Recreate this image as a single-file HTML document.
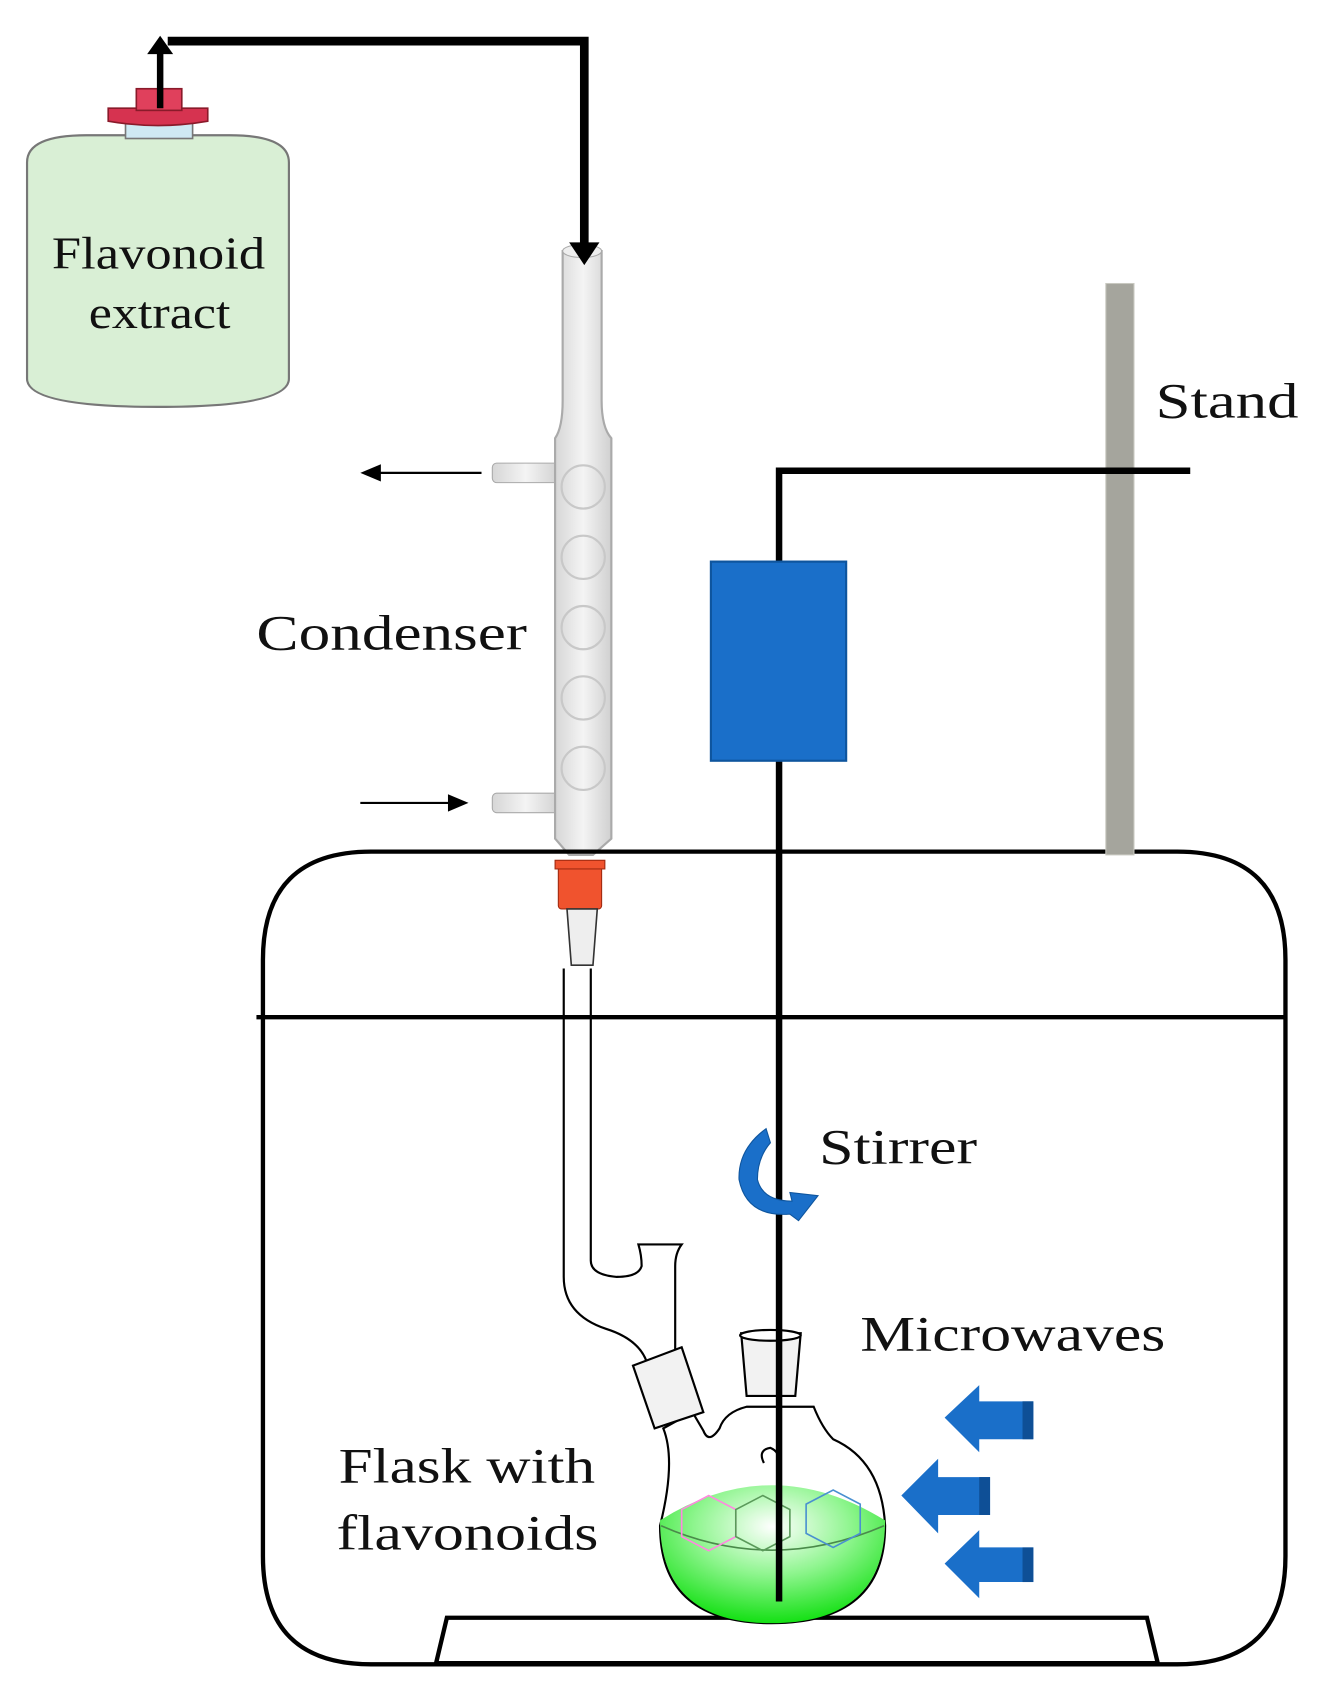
<!DOCTYPE html>
<html><head><meta charset="utf-8"><style>
html,body{margin:0;padding:0;background:#fff;}
svg{display:block;}
text{font-family:"Liberation Serif",serif;fill:#111;}
</style></head><body>
<svg width="1319" height="1700" viewBox="0 0 1219 1571" preserveAspectRatio="none" xmlns="http://www.w3.org/2000/svg">
<defs>
<radialGradient id="liq" cx="0.5" cy="0.3" r="0.7">
<stop offset="0" stop-color="#ffffff"/><stop offset="0.5" stop-color="#8ef58e"/><stop offset="1" stop-color="#14e014"/>
</radialGradient>
<linearGradient id="glass" x1="0" x2="1">
<stop offset="0" stop-color="#d6d6d6"/><stop offset="0.5" stop-color="#f4f4f4"/><stop offset="1" stop-color="#d0d0d0"/>
</linearGradient>
</defs>
<!-- bottle -->
<path d="M25,150 Q25,125 80,125 L212,125 Q267,125 267,150 L267,350 Q267,376 146,376 Q25,376 25,350 Z" fill="#d9efd5" stroke="#777" stroke-width="2"/>
<rect x="116" y="106" width="62" height="22" fill="#cfe9f3" stroke="#777" stroke-width="1.5"/>
<path d="M100,100 L192,100 L192,112 Q146,120 100,112 Z" fill="#d63350" stroke="#8a1a2a" stroke-width="1.5"/>
<rect x="126" y="82" width="42" height="20" fill="#e0405c" stroke="#8a1a2a" stroke-width="1.5"/>
<line x1="148" y1="100" x2="148" y2="48" stroke="#000" stroke-width="6"/>
<polygon points="136,50 148,33 160,50" fill="#000"/>
<text x="48" y="248" font-size="42" textLength="197" lengthAdjust="spacingAndGlyphs">Flavonoid</text>
<text x="82" y="303" font-size="42" textLength="131" lengthAdjust="spacingAndGlyphs">extract</text>
<!-- condenser -->
<rect x="455" y="428" width="62" height="18" rx="4" fill="url(#glass)" stroke="#aaa"/>
<rect x="455" y="733" width="62" height="18" rx="4" fill="url(#glass)" stroke="#aaa"/>
<path d="M520,232 L556,232 L556,370 Q556,395 565,405 L565,775 L548,790 L526,790 L513,775 L513,405 Q520,395 520,370 Z" fill="url(#glass)" stroke="#aaa" stroke-width="2"/>
<ellipse cx="538" cy="232" rx="18" ry="6" fill="#eee" stroke="#aaa"/>
<g fill="none" stroke="#c8c8c8" stroke-width="2">
<circle cx="539" cy="450" r="20"/><circle cx="539" cy="515" r="20"/><circle cx="539" cy="580" r="20"/><circle cx="539" cy="645" r="20"/><circle cx="539" cy="710" r="20"/>
</g>
<!-- top pipe -->
<polyline points="155,38 540,38 540,228" fill="none" stroke="#000" stroke-width="8"/>
<polygon points="526,224 540,245 554,224" fill="#000"/>
<line x1="445" y1="437" x2="345" y2="437" stroke="#000" stroke-width="2"/>
<polygon points="333,437 352,429 352,445" fill="#000"/>
<line x1="333" y1="742" x2="420" y2="742" stroke="#000" stroke-width="2"/>
<polygon points="433,742 414,734 414,750" fill="#000"/>
<text x="237" y="600" font-size="46" textLength="250" lengthAdjust="spacingAndGlyphs">Condenser</text>
<!-- vessel -->
<path d="M343,787 L1088,787 Q1188,787 1188,887 L1188,1438 Q1188,1538 1088,1538 L343,1538 Q243,1538 243,1438 L243,887 Q243,787 343,787 Z" fill="none" stroke="#000" stroke-width="4"/>
<line x1="237" y1="940" x2="1188" y2="940" stroke="#000" stroke-width="4"/>
<polygon points="413,1495 1060,1495 1070,1537 403,1537" fill="#fff" stroke="#000" stroke-width="4"/>
<!-- joint -->
<rect x="516" y="798" width="40" height="42" rx="3" fill="#f0532e" stroke="#a02a10"/>
<rect x="513" y="795" width="46" height="8" fill="#f0532e" stroke="#a02a10"/>
<path d="M524,840 L552,840 L548,892 L528,892 Z" fill="#eee" stroke="#333" stroke-width="1.5"/>
<!-- tube -->
<path d="M521,895 L521,1180 Q521,1215 560,1228 Q598,1240 600,1270" fill="none" stroke="#000" stroke-width="2"/>
<path d="M546,895 L546,1165 Q546,1178 570,1180 Q590,1180 593,1170 Q593,1160 590,1150 L630,1150 Q624,1158 624,1170 L624,1260" fill="none" stroke="#000" stroke-width="2"/>
<!-- flask -->
<path d="M613,1320 Q625,1350 610,1410 Q610,1500 713,1500 Q818,1500 818,1410 Q815,1350 770,1330 Q760,1320 752,1300 L690,1300 Q670,1305 665,1320 Q655,1335 650,1322 L640,1305 Z" fill="#fff" stroke="#000" stroke-width="2"/>
<path d="M610,1405 Q713,1340 818,1405 Q818,1500 713,1500 Q610,1500 610,1405 Z" fill="url(#liq)"/>
<path d="M611,1410 Q713,1455 817,1410" fill="none" stroke="#4a8a4a" stroke-width="1.5"/>
<g fill="none" stroke-width="1.5"><polygon points="630,1395 655,1382 680,1395 680,1420 655,1433 630,1420" stroke="#ff88e0"/>
<polygon points="680,1395 705,1382 730,1395 730,1420 705,1433 680,1420" stroke="#5a9a5a"/>
<polygon points="745,1390 770,1377 795,1390 795,1417 770,1430 745,1417" stroke="#4a90d0"/></g>
<path d="M685,1232 L740,1232 L735,1290 L690,1290 Z" fill="#f2f2f2" stroke="#000" stroke-width="2"/>
<ellipse cx="712" cy="1234" rx="28" ry="5" fill="#fff" stroke="#000" stroke-width="2"/>
<path d="M585,1262 L630,1245 L650,1305 L605,1320 Z" fill="#f2f2f2" stroke="#000" stroke-width="2"/>
<!-- stand and clamp -->
<rect x="1022" y="262" width="26" height="528" fill="#a5a59d" stroke="#c8c8c0"/>
<polyline points="720,1480 720,435 1100,435" fill="none" stroke="#000" stroke-width="6"/>
<rect x="657" y="519" width="125" height="184" fill="#1a6fc9" stroke="#0e559e" stroke-width="2"/>
<path d="M706,1352 Q700,1340 712,1338 Q722,1342 720,1356" fill="none" stroke="#000" stroke-width="2"/>
<text x="1068" y="386" font-size="46" textLength="132" lengthAdjust="spacingAndGlyphs">Stand</text>
<!-- stirrer arrow -->
<path d="M708,1043 Q682,1062 683,1090 Q690,1125 730,1122 L738,1128 L756,1105 L730,1102 L732,1110 Q705,1110 700,1090 Q700,1070 712,1056 Z" fill="#1a6fc9" stroke="#0e559e"/>
<text x="757" y="1075" font-size="46" textLength="146" lengthAdjust="spacingAndGlyphs">Stirrer</text>
<text x="795" y="1248" font-size="46" textLength="282" lengthAdjust="spacingAndGlyphs">Microwaves</text>
<g fill="#1a6fc9">
<polygon points="873,1310 905,1280 905,1295 955,1295 955,1330 905,1330 905,1342"/>
<polygon points="833,1382 867,1348 867,1365 915,1365 915,1400 867,1400 867,1417"/>
<polygon points="873,1445 905,1414 905,1430 955,1430 955,1462 905,1462 905,1477"/>
</g>
<g fill="#0e4f96"><rect x="945" y="1295" width="10" height="35"/><rect x="905" y="1365" width="10" height="35"/><rect x="945" y="1430" width="10" height="32"/></g>
<text x="313" y="1370" font-size="46" textLength="237" lengthAdjust="spacingAndGlyphs">Flask with</text>
<text x="311" y="1432" font-size="46" textLength="242" lengthAdjust="spacingAndGlyphs">flavonoids</text>
</svg>
</body></html>
